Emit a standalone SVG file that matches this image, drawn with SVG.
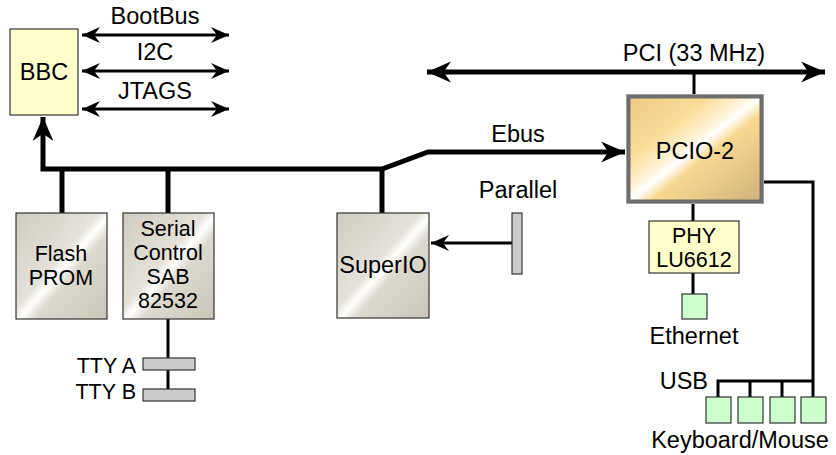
<svg xmlns="http://www.w3.org/2000/svg" width="836" height="455" viewBox="0 0 836 455">
<style>
text{font-family:"Liberation Sans",Arial,sans-serif;font-size:23.5px;fill:#000;text-anchor:middle}
text.m{font-size:21.5px}
.r{text-anchor:end}
.bus{stroke:#000;stroke-width:5;fill:none}
.thin{stroke:#000;stroke-width:3;fill:none}
.chip{fill:url(#silver);stroke:#333;stroke-width:1.2}
.yel{fill:#ffffcc;stroke:#333;stroke-width:1.2}
.grn{fill:#ccffcc;stroke:#333;stroke-width:1.2}
.bar{fill:#cccccc;stroke:#333;stroke-width:1.2}
</style>
<defs>
<linearGradient id="silver" x1="0" y1="0" x2="1" y2="1">
<stop offset="0" stop-color="#cfcbbf"/>
<stop offset="0.45" stop-color="#e4e2da"/>
<stop offset="0.52" stop-color="#ffffff"/>
<stop offset="0.6" stop-color="#dcd9cf"/>
<stop offset="1" stop-color="#c9c5b8"/>
</linearGradient>
<linearGradient id="gold" x1="0" y1="0" x2="1" y2="1">
<stop offset="0" stop-color="#edc984"/>
<stop offset="0.3" stop-color="#fadc98"/>
<stop offset="0.45" stop-color="#fff4d8"/>
<stop offset="0.5" stop-color="#ffffff"/>
<stop offset="0.58" stop-color="#f8d890"/>
<stop offset="1" stop-color="#cfb27c"/>
</linearGradient>
<marker id="ah" markerUnits="userSpaceOnUse" markerWidth="22" markerHeight="18" viewBox="-19 -9 20 18" refX="0" refY="0" orient="auto-start-reverse">
<path d="M0,0 L-18,-8 L-12,0 L-18,8 Z" fill="#000"/>
</marker>
<marker id="ahb" markerUnits="userSpaceOnUse" markerWidth="26" markerHeight="24" viewBox="-24 -11 25 22" refX="0" refY="0" orient="auto-start-reverse">
<path d="M0,0 L-23,-10 L-16,0 L-23,10 Z" fill="#000"/>
</marker>
</defs>

<g id="connectors">
<line class="thin" x1="82" y1="35" x2="229" y2="35" marker-start="url(#ah)" marker-end="url(#ah)"/>
<line class="thin" x1="82" y1="71" x2="229" y2="71" marker-start="url(#ah)" marker-end="url(#ah)"/>
<line class="thin" x1="82" y1="109" x2="229" y2="109" marker-start="url(#ah)" marker-end="url(#ah)"/>
<line class="bus" x1="427" y1="72" x2="825" y2="72" marker-start="url(#ahb)" marker-end="url(#ahb)"/>
<line class="thin" x1="694" y1="72" x2="694" y2="96"/>
<polyline class="bus" points="43,117 43,169 382,169 428,152 625,152" marker-start="url(#ahb)" marker-end="url(#ahb)"/>
<line class="bus" x1="62" y1="169" x2="62" y2="213"/>
<line class="bus" x1="168" y1="169" x2="168" y2="213"/>
<line class="bus" x1="382" y1="169" x2="382" y2="213"/>
<line class="thin" x1="512" y1="243" x2="431" y2="243" marker-end="url(#ah)"/>
<line class="thin" x1="168" y1="319" x2="168" y2="389"/>
<line class="thin" x1="693" y1="204" x2="693" y2="221"/>
<line class="thin" x1="693" y1="273" x2="693" y2="294"/>
<polyline class="thin" points="763,182 813,182 813,397"/>
<polyline class="thin" points="718,397 718,381 813,381"/>
<line class="thin" x1="750" y1="381" x2="750" y2="397"/>
<line class="thin" x1="782" y1="381" x2="782" y2="397"/>
</g>

<g id="bbc">
<rect class="yel" x="10" y="29" width="68" height="86"/>
<text x="44" y="80">BBC</text>
</g>
<g id="label-bootbus"><text x="155" y="24">BootBus</text></g>
<g id="label-i2c"><text x="155" y="60">I2C</text></g>
<g id="label-jtags"><text x="155" y="99">JTAGS</text></g>
<g id="label-pci"><text x="694" y="61">PCI (33 MHz)</text></g>
<g id="label-ebus"><text x="518" y="142">Ebus</text></g>

<g id="flash">
<rect class="chip" x="16" y="213" width="91" height="106"/>
<text class="m" x="61" y="261">Flash</text>
<text class="m" x="61" y="285">PROM</text>
</g>
<g id="serial">
<rect class="chip" x="123" y="213" width="91" height="106"/>
<text class="m" x="168" y="236">Serial</text>
<text class="m" x="168" y="260">Control</text>
<text class="m" x="168" y="284">SAB</text>
<text class="m" x="168" y="308">82532</text>
</g>
<g id="superio">
<rect class="chip" x="337" y="213" width="92" height="105"/>
<text x="383" y="273">SuperIO</text>
</g>
<g id="parallel">
<rect class="bar" x="512" y="213" width="10" height="61"/>
<text x="518" y="198">Parallel</text>
</g>
<g id="tty-a">
<rect class="bar" x="143" y="358" width="52" height="12"/>
<text class="r m" x="136" y="373">TTY A</text>
</g>
<g id="tty-b">
<rect class="bar" x="143" y="389" width="52" height="12"/>
<text class="r m" x="136" y="399">TTY B</text>
</g>
<g id="pcio2">
<rect x="628.5" y="96.5" width="133" height="105" fill="url(#gold)" stroke="#6e6e6e" stroke-width="4"/>
<rect x="626.5" y="94.5" width="137" height="109" fill="none" stroke="#a0a0a0" stroke-width="1"/>
<text x="695" y="159">PCIO-2</text>
</g>
<g id="phy">
<rect class="yel" x="649" y="221" width="90" height="52"/>
<text class="m" x="694" y="243">PHY</text>
<text class="m" x="694" y="267">LU6612</text>
</g>
<g id="ethernet">
<rect class="grn" x="682" y="294" width="25" height="25"/>
<text x="694" y="344">Ethernet</text>
</g>
<g id="usb">
<text class="r" x="708" y="389">USB</text>
<rect class="grn" x="706" y="397" width="25" height="26"/>
<rect class="grn" x="738" y="397" width="25" height="26"/>
<rect class="grn" x="770" y="397" width="25" height="26"/>
<rect class="grn" x="801" y="397" width="25" height="26"/>
<text x="740" y="448">Keyboard/Mouse</text>
</g>
</svg>
